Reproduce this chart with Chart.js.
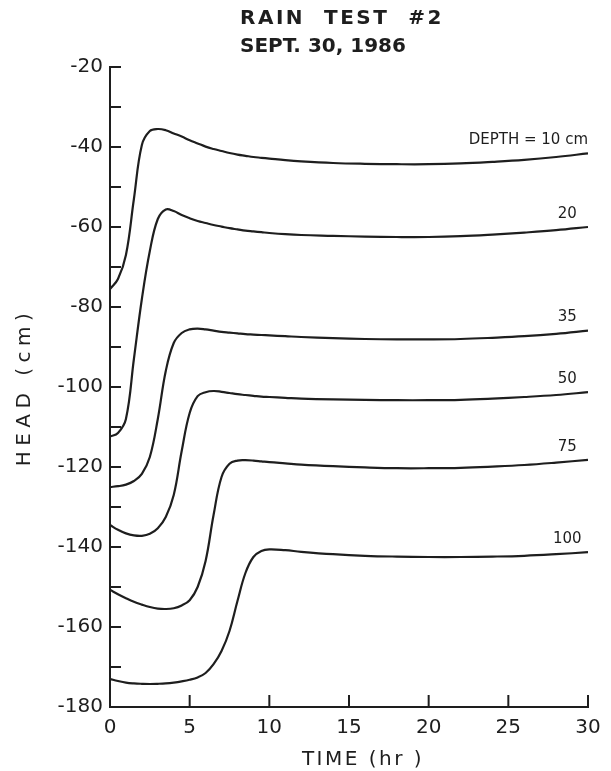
<!DOCTYPE html>
<html>
<head>
<meta charset="utf-8">
<script src="https://cdn.jsdelivr.net/npm/chart.js@4.4.0/dist/chart.umd.min.js"></script>
<style>
    html, body { margin: 0; padding: 0; background: #fff; }
    canvas { display: block; }
</style>
</head>
<body>
<canvas id="grafico" width="611" height="771"></canvas>
<script>
// Tempo (hr)
const tempo = [0, 0.5, 1, 1.5, 2, 2.5, 3, 3.5, 4, 4.5, 5, 5.5, 6, 6.5, 7, 7.5, 8, 8.5, 9, 9.5, 10, 11, 12, 14, 16, 18, 20, 22, 24, 26, 28, 30];

// Carga (cm) para cada profundidade
const prof10 = [-75.5, -73, -67, -53, -39.5, -36, -35.5, -35.8, -36.6, -37.4, -38.3, -39.1, -39.9, -40.5, -41, -41.5, -41.9, -42.2, -42.5, -42.7, -42.9, -43.3, -43.6, -44, -44.2, -44.3, -44.3, -44.1, -43.7, -43.2, -42.5, -41.6];
const prof20 = [-112.4, -111.5, -108, -93, -78, -66, -58, -55.6, -56, -57, -57.8, -58.5, -59, -59.5, -59.9, -60.3, -60.6, -60.9, -61.1, -61.3, -61.5, -61.8, -62, -62.2, -62.4, -62.5, -62.5, -62.3, -61.9, -61.4, -60.8, -60];
const prof35 = [-125, -124.8, -124.4, -123.5, -121.7, -117.5, -108, -96, -89, -86.5, -85.6, -85.4, -85.6, -85.9, -86.2, -86.4, -86.6, -86.8, -86.9, -87, -87.1, -87.3, -87.5, -87.8, -88, -88.1, -88.1, -88, -87.7, -87.3, -86.7, -85.9];
const prof50 = [-134.5, -135.7, -136.6, -137.1, -137.2, -136.7, -135.3, -132.5, -127, -116, -106.5, -102.3, -101.3, -101, -101.2, -101.5, -101.8, -102, -102.2, -102.4, -102.5, -102.7, -102.9, -103.1, -103.2, -103.3, -103.3, -103.2, -102.9, -102.5, -102, -101.3];
const prof75 = [-150.7, -151.8, -152.8, -153.7, -154.4, -155, -155.4, -155.5, -155.3, -154.6, -153.3, -150, -143.5, -132, -122.5, -119.2, -118.4, -118.3, -118.4, -118.6, -118.8, -119.1, -119.4, -119.8, -120.1, -120.3, -120.3, -120.2, -119.9, -119.5, -118.9, -118.2];
const prof100 = [-173, -173.5, -173.9, -174.1, -174.2, -174.25, -174.2, -174.1, -173.9, -173.6, -173.2, -172.6, -171.5, -169.3, -166, -161, -153.5, -146.5, -142.5, -141, -140.6, -140.8, -141.2, -141.8, -142.2, -142.4, -142.5, -142.5, -142.4, -142.2, -141.8, -141.3];

const rotulos = ['DEPTH = 10 cm', '20', '35', '50', '75', '100'];
const ticksY = [-180, -170, -160, -150, -140, -130, -120, -110, -100, -90, -80, -70, -60, -50, -40, -30, -20];
const ticksX = [5, 10, 15, 20, 25, 30];

const corTinta = '#1e1e1e';
const fonte = '"DejaVu Sans", sans-serif';

const series = [prof10, prof20, prof35, prof50, prof75, prof100];

// Plugin para titulo, rotulos dos eixos, marcas internas e nomes das curvas
const desenhoExtra = {
    id: 'desenhoExtra',
    afterDraw(chart) {
        const ctx = chart.ctx;
        const x = chart.scales.x;
        const y = chart.scales.y;
        const area = chart.chartArea;

        ctx.save();
        ctx.strokeStyle = corTinta;
        ctx.lineWidth = 2;

        // Marcas internas do eixo y
        ticksY.forEach(function(v) {
            const py = y.getPixelForValue(v);
            ctx.beginPath();
            ctx.moveTo(area.left, py);
            ctx.lineTo(area.left + 11, py);
            ctx.stroke();
        });

        // Marcas internas do eixo x
        ticksX.forEach(function(v) {
            const px = x.getPixelForValue(v);
            ctx.beginPath();
            ctx.moveTo(px, area.bottom);
            ctx.lineTo(px, area.bottom - 12);
            ctx.stroke();
        });

        ctx.fillStyle = corTinta;
        ctx.textBaseline = 'middle';

        // Titulo
        ctx.textAlign = 'left';
        ctx.font = 'bold 20px ' + fonte;
        ctx.letterSpacing = '2.5px';
        ctx.fillText('RAIN  TEST  #2', 240, 19);
        ctx.letterSpacing = '0px';
        ctx.fillText('SEPT. 30, 1986', 240, 47);

        // Titulo do eixo x
        ctx.textAlign = 'center';
        ctx.font = '20px ' + fonte;
        ctx.letterSpacing = '2.5px';
        ctx.fillText('TIME (hr )', 363, 760);

        // Titulo do eixo y
        ctx.save();
        ctx.translate(25, (area.top + area.bottom) / 2);
        ctx.rotate(-Math.PI / 2);
        ctx.letterSpacing = '5.5px';
        ctx.fillText('HEAD (cm)', 0, 0);
        ctx.restore();

        // Nomes das curvas
        ctx.letterSpacing = '0px';
        ctx.font = '15px ' + fonte;
        series.forEach(function(serie, i) {
            const ultimo = serie[serie.length - 1];
            const py = y.getPixelForValue(ultimo) - 13;
            if (i === 0) {
                ctx.textAlign = 'right';
                ctx.fillText(rotulos[i], x.getPixelForValue(30), py);
            } else {
                ctx.textAlign = 'center';
                ctx.fillText(rotulos[i], x.getPixelForValue(28.7), py);
            }
        });

        ctx.restore();
    }
};

function montarDatasets() {
    return series.map(function(serie, i) {
        return {
            label: rotulos[i],
            data: tempo.map(function(t, j) { return { x: t, y: serie[j] }; }),
            borderColor: corTinta,
            borderWidth: 2.2,
            pointRadius: 0,
            fill: false,
            tension: 0.4
        };
    });
}

new Chart(document.getElementById('grafico').getContext('2d'), {
    type: 'line',
    data: { datasets: montarDatasets() },
    plugins: [desenhoExtra],
    options: {
        responsive: false,
        animation: false,
        layout: { padding: { top: 67, right: 23, left: 0, bottom: 0 } },
        plugins: {
            legend: { display: false },
            tooltip: { enabled: false }
        },
        scales: {
            x: {
                type: 'linear',
                min: 0,
                max: 30,
                grid: { display: false, drawTicks: false },
                border: { display: true, color: corTinta, width: 2 },
                ticks: {
                    stepSize: 5,
                    padding: 9,
                    color: corTinta,
                    font: { family: fonte, size: 20 }
                },
                afterFit: function(scale) { scale.height = 64; }
            },
            y: {
                type: 'linear',
                min: -180,
                max: -20,
                grid: { display: false, drawTicks: false },
                border: { display: true, color: corTinta, width: 2 },
                ticks: {
                    stepSize: 20,
                    padding: 7,
                    color: corTinta,
                    font: { family: fonte, size: 20 }
                },
                afterFit: function(scale) { scale.width = 110; }
            }
        }
    }
});
</script>
</body>
</html>
